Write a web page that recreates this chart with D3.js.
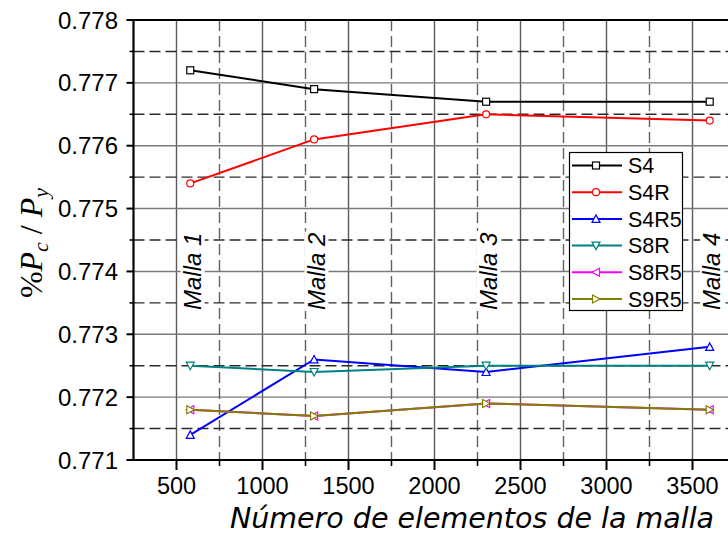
<!DOCTYPE html>
<html>
<head>
<meta charset="utf-8">
<script src="https://cdn.jsdelivr.net/npm/d3@7"></script>
<style>
  html, body { margin: 0; padding: 0; background: #fff; }
  svg { display: block; }
</style>
</head>
<body>
<svg id="chart" width="728" height="537"></svg>
<script>
// Mesh sizes (number of elements) for the four meshes
const elements = [580, 1300, 2300, 3600];
const meshLabels = ["Malla 1", "Malla 2", "Malla 3", "Malla 4"];

// %Pc/Py for each section model
const seriesNames = ["S4", "S4R", "S4R5", "S8R", "S8R5", "S9R5"];
const S4   = [0.7772, 0.7769, 0.7767, 0.7767];
const S4R  = [0.7754, 0.7761, 0.7765, 0.7764];
const S4R5 = [0.7714, 0.7726, 0.7724, 0.7728];
const S8R  = [0.7725, 0.7724, 0.7725, 0.7725];
const S8R5 = [0.7718, 0.7717, 0.7719, 0.7718];
const S9R5 = [0.7718, 0.7717, 0.7719, 0.7718];

const xTicks = [500, 1000, 1500, 2000, 2500, 3000, 3500];
const xMinor = [750, 1250, 1750, 2250, 2750, 3250, 3750];
const yTicks = [0.771, 0.772, 0.773, 0.774, 0.775, 0.776, 0.777, 0.778];
const yMinor = [0.7715, 0.7725, 0.7735, 0.7745, 0.7755, 0.7765, 0.7775];

const series = [
  { name: seriesNames[0], values: S4,   color: "#000000", symbol: "square" },
  { name: seriesNames[1], values: S4R,  color: "#ff0000", symbol: "circle" },
  { name: seriesNames[2], values: S4R5, color: "#0000ff", symbol: "up" },
  { name: seriesNames[3], values: S8R,  color: "#008080", symbol: "down" },
  { name: seriesNames[4], values: S8R5, color: "#ff00ff", symbol: "left" },
  { name: seriesNames[5], values: S9R5, color: "#808000", symbol: "right" }
];

const svg = d3.select("#chart");
const plotLeft = 133.5, plotTop = 20, plotBottom = 460, plotRight = 735.5;

const x = d3.scaleLinear().domain([250, 3750]).range([plotLeft, plotRight]);
const y = d3.scaleLinear().domain([0.771, 0.778]).range([plotBottom, plotTop]);

// plot clip
svg.append("defs").append("clipPath").attr("id", "plotClip")
  .append("rect").attr("x", plotLeft).attr("y", plotTop)
  .attr("width", plotRight - plotLeft).attr("height", plotBottom - plotTop);

const grid = svg.append("g").attr("clip-path", "url(#plotClip)");

// major gridlines (solid)
grid.selectAll(".gx").data(xTicks).join("line")
  .attr("x1", d => x(d)).attr("x2", d => x(d)).attr("y1", plotTop).attr("y2", plotBottom)
  .attr("stroke", "#5a5a5a").attr("stroke-width", 1.4);
grid.selectAll(".gy").data(yTicks).join("line")
  .attr("x1", plotLeft).attr("x2", plotRight).attr("y1", d => y(d)).attr("y2", d => y(d))
  .attr("stroke", "#7a7a7a").attr("stroke-width", 1.4);

// minor gridlines (dashed)
grid.selectAll(".mx").data(xMinor).join("line")
  .attr("x1", d => x(d)).attr("x2", d => x(d)).attr("y1", plotTop).attr("y2", plotBottom)
  .attr("stroke", "#606060").attr("stroke-width", 1.4).attr("stroke-dasharray", "11,5");
grid.selectAll(".my").data(yMinor).join("line")
  .attr("x1", plotLeft).attr("x2", plotRight).attr("y1", d => y(d)).attr("y2", d => y(d))
  .attr("stroke", "#2a2a2a").attr("stroke-width", 1.4).attr("stroke-dasharray", "11,5");

// mesh labels, rotated, on a white backing
const meshG = svg.append("g");
elements.forEach((e, i) => {
  const g = meshG.append("g").attr("transform", `translate(${x(e) + 2},310) rotate(-90)`);
  const bg = g.append("rect").attr("fill", "#fff");
  const t = g.append("text")
    .attr("x", 0).attr("y", 0)
    .attr("dy", "0.35em")
    .attr("font-family", "Liberation Sans, Arial, sans-serif")
    .attr("font-style", "italic")
    .attr("font-size", 24)
    .attr("fill", "#000")
    .text(meshLabels[i]);
  const bb = t.node().getBBox();
  bg.attr("x", bb.x - 1).attr("y", bb.y + 2).attr("width", bb.width + 2).attr("height", bb.height - 3);
});

// frame: top border
svg.append("line").attr("x1", plotLeft).attr("x2", 728).attr("y1", plotTop).attr("y2", plotTop)
  .attr("stroke", "#000").attr("stroke-width", 2);

// axes
const yAxis = svg.append("g");
yAxis.append("line").attr("x1", plotLeft).attr("x2", plotLeft).attr("y1", plotTop - 1).attr("y2", plotBottom + 1)
  .attr("stroke", "#000").attr("stroke-width", 2.2);
yAxis.selectAll(".yt").data(yTicks).join("line")
  .attr("x1", plotLeft - 7).attr("x2", plotLeft).attr("y1", d => y(d)).attr("y2", d => y(d))
  .attr("stroke", "#000").attr("stroke-width", 2);
yAxis.selectAll(".ym").data(yMinor).join("line")
  .attr("x1", plotLeft - 4).attr("x2", plotLeft).attr("y1", d => y(d)).attr("y2", d => y(d))
  .attr("stroke", "#000").attr("stroke-width", 1.6);
yAxis.selectAll(".yl").data(yTicks).join("text")
  .attr("x", 118).attr("y", d => y(d)).attr("dy", "0.36em")
  .attr("text-anchor", "end")
  .attr("font-family", "Liberation Sans, Arial, sans-serif").attr("font-size", 24)
  .attr("fill", "#000")
  .text(d => d3.format(".3f")(d));

const xAxis = svg.append("g");
xAxis.append("line").attr("x1", plotLeft - 1).attr("x2", 728).attr("y1", plotBottom).attr("y2", plotBottom)
  .attr("stroke", "#000").attr("stroke-width", 2.2);
xAxis.selectAll(".xt").data(xTicks).join("line")
  .attr("x1", d => x(d)).attr("x2", d => x(d)).attr("y1", plotBottom).attr("y2", plotBottom + 10)
  .attr("stroke", "#000").attr("stroke-width", 2);
xAxis.selectAll(".xm").data(xMinor.filter(d => x(d) < 728)).join("line")
  .attr("x1", d => x(d)).attr("x2", d => x(d)).attr("y1", plotBottom).attr("y2", plotBottom + 6)
  .attr("stroke", "#000").attr("stroke-width", 1.6);
xAxis.selectAll(".xl").data(xTicks).join("text")
  .attr("x", d => x(d)).attr("y", 494)
  .attr("text-anchor", "middle")
  .attr("font-family", "Liberation Sans, Arial, sans-serif").attr("font-size", 23.5)
  .attr("fill", "#000")
  .text(d => d);

// axis titles
svg.append("text")
  .attr("x", 472).attr("y", 528)
  .attr("text-anchor", "middle")
  .attr("font-family", "DejaVu Sans, sans-serif").attr("font-style", "oblique")
  .attr("font-size", 28.5).attr("fill", "#000")
  .text("Número de elementos de la malla");

const yTitle = svg.append("text")
  .attr("transform", "translate(42,243) rotate(-90)")
  .attr("text-anchor", "middle")
  .attr("font-family", "Liberation Serif, Times New Roman, serif")
  .attr("font-size", 32).attr("fill", "#000");
yTitle.append("tspan").text("%");
yTitle.append("tspan").attr("font-style", "italic").text("P");
yTitle.append("tspan").attr("font-style", "italic").attr("font-size", 22).attr("dy", 6).text("c");
yTitle.append("tspan").attr("dy", -6).text(" / ");
yTitle.append("tspan").attr("font-style", "italic").text("P");
yTitle.append("tspan").attr("font-style", "italic").attr("font-size", 22).attr("dy", 6).text("y");

// marker shapes
function marker(sel, symbol, color, cx, cy) {
  const s = 3.5;
  let el;
  if (symbol === "square") {
    el = sel.append("rect").attr("x", cx - s).attr("y", cy - s).attr("width", 2 * s).attr("height", 2 * s);
  } else if (symbol === "circle") {
    el = sel.append("circle").attr("cx", cx).attr("cy", cy).attr("r", s);
  } else {
    const pts = {
      up:    [[0, -s - 0.5], [s + 0.5, s], [-s - 0.5, s]],
      down:  [[0, s + 0.5], [s + 0.5, -s], [-s - 0.5, -s]],
      left:  [[-s - 0.5, 0], [s, -s - 0.5], [s, s + 0.5]],
      right: [[s + 0.5, 0], [-s, -s - 0.5], [-s, s + 0.5]]
    }[symbol];
    el = sel.append("polygon").attr("points", pts.map(p => [cx + p[0], cy + p[1]].join(",")).join(" "));
  }
  el.attr("fill", "#fff").attr("stroke", color).attr("stroke-width", 1.2);
}

// series lines and markers
const line = d3.line().x((d, i) => x(elements[i])).y(d => y(d));
const plot = svg.append("g");
series.forEach(s => {
  const g = plot.append("g");
  g.append("path").datum(s.values)
    .attr("d", line).attr("fill", "none")
    .attr("stroke", s.color).attr("stroke-width", 2);
  s.values.forEach((v, i) => marker(g, s.symbol, s.color, x(elements[i]), y(v)));
});

// legend
const lg = svg.append("g");
lg.append("rect").attr("x", 569.5).attr("y", 152.5).attr("width", 113).attr("height", 158)
  .attr("fill", "#fff").attr("stroke", "#000").attr("stroke-width", 1.2);
series.forEach((s, i) => {
  const yy = 165.5 + i * 26.7;
  lg.append("line").attr("x1", 572).attr("x2", 622).attr("y1", yy).attr("y2", yy)
    .attr("stroke", s.color).attr("stroke-width", 2);
  marker(lg, s.symbol, s.color, 596, yy);
  lg.append("text").attr("x", 628).attr("y", yy).attr("dy", "0.36em")
    .attr("font-family", "Liberation Sans, Arial, sans-serif").attr("font-size", 21.5)
    .attr("fill", "#000").text(s.name);
});
</script>
</body>
</html>
